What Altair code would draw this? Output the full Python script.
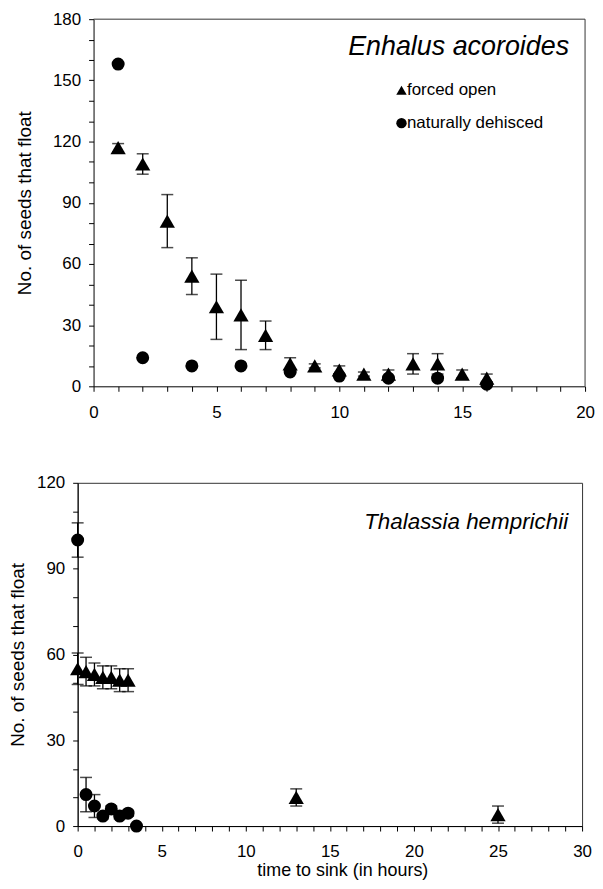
import altair as alt
import pandas as pd

FONT = "Liberation Sans"
SERIES = ["forced open", "naturally dehisced"]

# ---- Enhalus acoroides (top panel) ----
ea_fo_t = [1, 2, 3, 4, 5, 6, 7, 8, 9, 10, 11, 12, 13, 14, 15, 16]
ea_fo_v = [117, 109, 81, 54, 39, 35, 25, 11, 10, 8, 6, 6, 11, 11, 6, 4]
ea_fo_e = [2, 5, 13, 9, 16, 17, 7, 3, 1, 2, 1, 2, 5, 5, 2, 2]
ea_nd_t = [1, 2, 4, 6, 8, 10, 12, 14, 16]
ea_nd_v = [158, 14, 10, 10, 7, 5, 4, 4, 1]
ea_nd_e = [0, 0, 0, 0, 0, 0, 0, 0, 0]

# ---- Thalassia hemprichii (bottom panel) ----
th_fo_t = [0, 0.5, 1, 1.5, 2, 2.5, 3, 13, 25]
th_fo_v = [55, 54, 53, 52, 52, 51, 51, 10, 4]
th_fo_e = [5.5, 5, 4, 4, 4, 4, 4, 3, 3]
th_nd_t = [0, 0.5, 1, 1.5, 2, 2.5, 3, 3.5]
th_nd_v = [100, 11, 7, 3.5, 6, 3.5, 4.5, 0]
th_nd_e = [6, 6, 4, 1, 1, 1, 1, 0]

Y_TITLE = "No. of seeds that float"
X_TITLE = "time to sink (in hours)"
FRAME = "#333333"


def frame(fo_t, fo_v, fo_e, nd_t, nd_v, nd_e):
    rows = []
    for t, v, e in zip(fo_t, fo_v, fo_e):
        rows.append({"t": t, "v": v, "lo": max(v - e, 0), "hi": v + e, "series": SERIES[0]})
    for t, v, e in zip(nd_t, nd_v, nd_e):
        rows.append({"t": t, "v": v, "lo": max(v - e, 0), "hi": v + e, "series": SERIES[1]})
    return pd.DataFrame(rows)


def panel(df, xmax, ymax, w, h, left, name, name_x, name_y, name_size, legend, x_title, y_title_pad):
    xs = alt.Scale(domain=[0, xmax], nice=False, zero=False, range=[left, w])
    ys = alt.Scale(domain=[0, ymax], nice=False)
    x_axis = alt.Axis(
        values=list(range(0, xmax + 1)),
        labelExpr="datum.value % 5 === 0 ? datum.label : ''",
        labelOverlap=False, labelFlush=False, grid=False,
        tickSize=5, labelPadding=13,
        title=x_title if x_title else None,
        titlePadding=2, titleX=(266 if x_title else alt.Undefined),
        titleFontSize=18,
    )
    y_axis = alt.Axis(
        values=list(range(0, ymax + 1, 10)),
        labelExpr="datum.value % 30 === 0 ? datum.label : ''",
        labelOverlap=False, labelFlush=False, grid=False,
        tickSize=5, labelPadding=8,
        title=Y_TITLE, titlePadding=y_title_pad, titleFontSize=19,
        offset=-left if left else alt.Undefined,
    )
    X = lambda f: alt.X(f, scale=xs, axis=x_axis)
    Y = lambda f: alt.Y(f, scale=ys, axis=y_axis)
    base = alt.Chart(df)
    rules = base.mark_rule(color="black", strokeWidth=1.3, clip=False).encode(
        x=X("t:Q"), y=Y("lo:Q"), y2="hi:Q")
    cap_hi = base.mark_tick(color="black", orient="horizontal", size=12, thickness=1.5, clip=False).encode(
        x=X("t:Q"), y=Y("hi:Q"))
    cap_lo = base.mark_tick(color="black", orient="horizontal", size=12, thickness=1.5, clip=False).encode(
        x=X("t:Q"), y=Y("lo:Q"))
    if legend:
        leg = alt.Legend(
            orient="none", legendX=legend[0], legendY=legend[1], title=None,
            labelFont=FONT, labelFontSize=17, labelColor="black",
            symbolSize=110, symbolFillColor="black", symbolStrokeColor="black",
            symbolStrokeWidth=0, symbolOffset=6, rowPadding=15,
            labelOffset={"expr": "-3"}, padding=0,
        )
    else:
        leg = None
    shape_scale = alt.Scale(domain=SERIES, range=["triangle-up", "circle"])
    tri = base.transform_filter(alt.datum.series == SERIES[0]).mark_point(
        filled=True, opacity=1, color="black", clip=False, size=235).encode(
        x=X("t:Q"), y=Y("v:Q"), shape=alt.Shape("series:N", scale=shape_scale, legend=leg))
    cir = base.transform_filter(alt.datum.series == SERIES[1]).mark_point(
        filled=True, opacity=1, color="black", clip=False, size=170).encode(
        x=X("t:Q"), y=Y("v:Q"), shape=alt.Shape("series:N", scale=shape_scale, legend=leg))
    label = alt.Chart(pd.DataFrame({"name": [name]})).mark_text(
        font=FONT, fontSize=name_size, fontStyle="italic", align="right", baseline="alphabetic", color="black"
    ).encode(text="name:N", x=alt.value(name_x), y=alt.value(name_y))
    layers = [rules, cap_hi, cap_lo, tri, cir, label]
    props = dict(width=w, height=h)
    if left:
        # frame drawn by hand, because the plot starts right of the shared origin
        d = pd.DataFrame({"k": [0]})
        top_line = alt.Chart(d).mark_rule(color=FRAME, strokeWidth=1).encode(
            x=alt.value(left), x2=alt.value(w), y=alt.value(0))
        right_line = alt.Chart(d).mark_rule(color=FRAME, strokeWidth=1).encode(
            x=alt.value(w), y=alt.value(0), y2=alt.value(h))
        layers = [top_line, right_line] + layers
        props["view"] = alt.ViewBackground(stroke=None)
    return alt.layer(*layers).properties(**props)


top = panel(frame(ea_fo_t, ea_fo_v, ea_fo_e, ea_nd_t, ea_nd_v, ea_nd_e),
            20, 180, 510, 369, 16, "Enhalus acoroides", 494, 36.5, 27, (311, 63), None, 18)
bottom = panel(frame(th_fo_t, th_fo_v, th_fo_e, th_nd_t, th_nd_v, th_nd_e),
               30, 120, 507, 345, 0, "Thalassia hemprichii", 493, 46, 22.5, None, X_TITLE, 9)

chart = alt.concat(top, bottom, columns=1, spacing=53).properties(
    padding={"left": 0, "top": 0, "right": 0, "bottom": 0}
).configure_view(stroke=FRAME, strokeWidth=1).configure_axis(
    domainColor="black", tickColor="black", labelColor="black", titleColor="black",
    labelFont=FONT, labelFontSize=17, titleFont=FONT, titleFontWeight="normal",
    labelOverlap=False,
)

chart.save("out.html", embed_options={"renderer": "svg", "actions": False})
